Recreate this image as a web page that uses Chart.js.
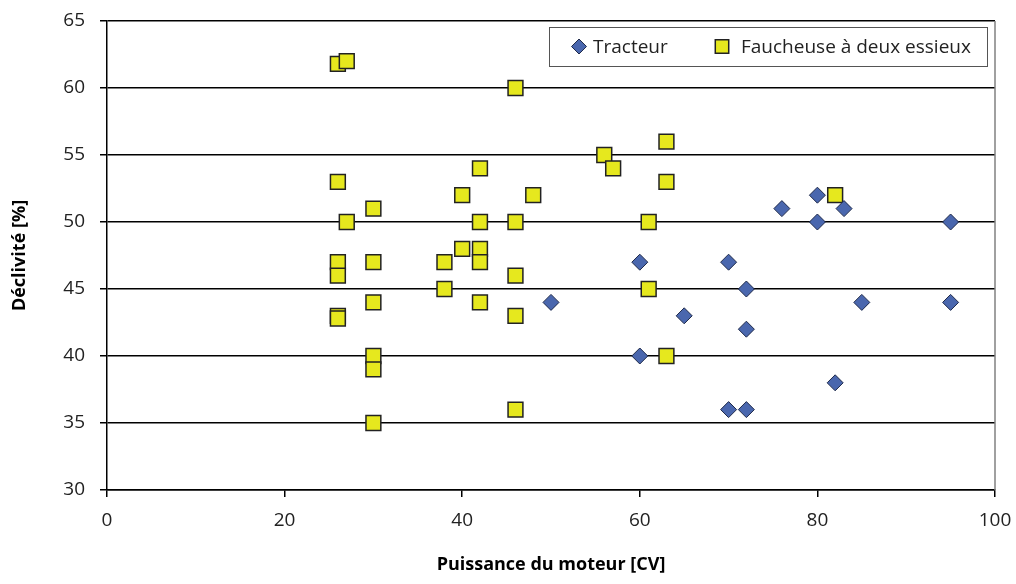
<!DOCTYPE html>
<html lang="fr">
<head>
<meta charset="UTF-8">
<title>Déclivité vs puissance du moteur</title>
<script src="https://cdn.jsdelivr.net/npm/chart.js@4"></script>
<style>
  html, body { margin: 0; padding: 0; background: #fff; overflow: hidden; }
</style>
</head>
<body>
<canvas id="c" width="1016" height="584"></canvas>
<script>
// ---------- data ----------
const tracteurX = [50, 60, 60, 70, 72, 72, 65, 70, 72, 76, 80, 80, 83, 85, 82, 95, 95];
const tracteurY = [44, 47, 40, 47, 45, 42, 43, 36, 36, 51, 52, 50, 51, 44, 38, 50, 44];

const faucheuseX = [26, 27, 46, 26, 30, 27, 40, 42, 42, 46, 48, 56, 57, 63, 63, 61, 82,
                    26, 26, 30, 38, 40, 42, 42, 46, 38, 61, 30, 42, 46, 26, 26, 30, 30, 63, 46, 30];
const faucheuseY = [61.8, 62, 60, 53, 51, 50, 52, 54, 50, 50, 52, 55, 54, 56, 53, 50, 52,
                    47, 46, 47, 47, 48, 48, 47, 46, 45, 45, 44, 44, 43, 43, 42.8, 40, 39, 40, 36, 35];

const xTicks = [0, 20, 40, 60, 80, 100];
const yTicks = [30, 35, 40, 45, 50, 55, 60, 65];

const toPoints = (xs, ys) => xs.map((x, i) => ({ x, y: ys[i] }));

const FONT = '"Open Sans", "DejaVu Sans", sans-serif';

// ---------- legend drawn inside the plot, top right ----------
const innerLegend = {
  id: 'innerLegend',
  afterDraw(chart) {
    const { ctx, chartArea } = chart;
    // right border of the plot
    ctx.save();
    ctx.strokeStyle = '#808080';
    ctx.lineWidth = 1.5;
    ctx.beginPath();
    ctx.moveTo(chartArea.right, chartArea.top);
    ctx.lineTo(chartArea.right, chartArea.bottom);
    ctx.stroke();

    const bx = 549, by = 27, bw = 438, bh = 39;
    ctx.fillStyle = '#fff';
    ctx.fillRect(bx, by, bw, bh);
    ctx.strokeStyle = '#555';
    ctx.lineWidth = 1;
    ctx.strokeRect(bx + 0.5, by + 0.5, bw, bh);

    ctx.font = '19px ' + FONT;
    ctx.textBaseline = 'middle';
    const items = [[579, 593], [722, 741]];
    chart.data.datasets.forEach((ds, i) => {
      const [mx, tx] = items[i];
      ctx.fillStyle = ds.backgroundColor;
      ctx.strokeStyle = ds.borderColor;
      ctx.lineWidth = ds.borderWidth;
      Chart.helpers.drawPoint(ctx, {
        pointStyle: ds.pointStyle,
        radius: ds.legendRadius,
        borderWidth: ds.borderWidth,
        rotation: 0
      }, mx, by + bh / 2);
      ctx.fillStyle = '#222';
      ctx.fillText(ds.label, tx, by + bh / 2 + 1);
    });
    ctx.restore();
  }
};

new Chart(document.getElementById('c'), {
  type: 'scatter',
  data: {
    datasets: [
      {
        label: 'Tracteur',
        data: toPoints(tracteurX, tracteurY),
        pointStyle: 'rectRot',
        pointRadius: 8,
        legendRadius: 7.5,
        backgroundColor: '#4a67ae',
        borderColor: '#1f2a4a',
        borderWidth: 1
      },
      {
        label: 'Faucheuse à deux essieux',
        data: toPoints(faucheuseX, faucheuseY),
        pointStyle: 'rect',
        pointRadius: 10.5,
        legendRadius: 9.5,
        backgroundColor: '#e6e81e',
        borderColor: '#222',
        borderWidth: 1.5
      }
    ]
  },
  options: {
    responsive: false,
    animation: false,
    devicePixelRatio: 1,
    layout: { padding: { top: 21, right: 21, left: 0, bottom: 0 } },
    plugins: {
      legend: { display: false },
      tooltip: { enabled: false }
    },
    scales: {
      x: {
        type: 'linear',
        min: 0, max: 100,
        afterBuildTicks: s => { s.ticks = xTicks.map(v => ({ value: v })); },
        afterFit: s => { s.height = 94; s.paddingLeft = 0; s.paddingRight = 0; },
        border: { color: '#000', width: 1.5 },
        grid: { drawOnChartArea: false, drawTicks: true, tickLength: 7, color: '#000', lineWidth: 1.5 },
        ticks: { color: '#222', padding: 12, font: { family: FONT, size: 19 }, maxRotation: 0 },
        title: {
          display: true,
          text: 'Puissance du moteur [CV]',
          color: '#000',
          font: { family: FONT, size: 18, weight: 'bold' },
          padding: { top: 0, bottom: 8 }
        }
      },
      y: {
        type: 'linear',
        min: 30, max: 65,
        afterBuildTicks: s => { s.ticks = yTicks.map(v => ({ value: v })); },
        afterFit: s => { s.width = 107; s.paddingTop = 0; s.paddingBottom = 0; },
        border: { color: '#000', width: 1.5 },
        grid: { color: '#000', lineWidth: 1.5, drawTicks: true, tickLength: 7 },
        ticks: { color: '#222', padding: 15, font: { family: FONT, size: 19 } },
        title: {
          display: true,
          text: 'Déclivité [%]',
          color: '#000',
          font: { family: FONT, size: 18, weight: 'bold' },
          padding: { top: 9, bottom: 0 }
        }
      }
    }
  },
  plugins: [innerLegend]
});
</script>
</body>
</html>
